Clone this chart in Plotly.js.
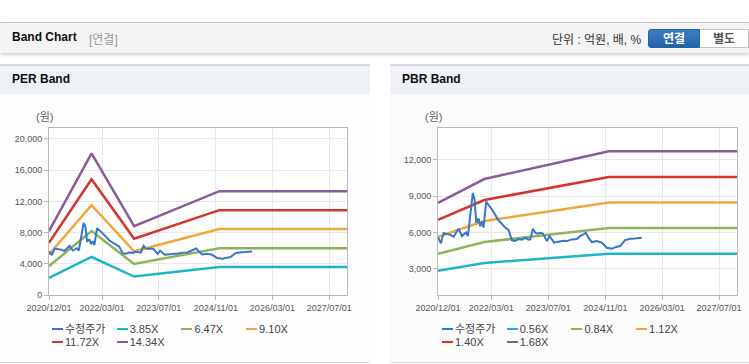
<!DOCTYPE html>
<html><head><meta charset="utf-8">
<script src="https://cdn.plot.ly/plotly-3.0.1.min.js"></script>
<style>
html,body{margin:0;padding:0;background:#fff;width:749px;height:364px;overflow:hidden;font-family:"Liberation Sans","Noto Sans CJK KR",sans-serif;}
#topbar{position:absolute;left:0;top:22px;width:749px;height:30px;background:#f4f4f4;border-top:1px solid #c4c4c4;box-shadow:0 2px 3px rgba(0,0,0,0.18);}
#topbar .t{position:absolute;left:12px;top:7px;font-size:12px;font-weight:bold;color:#111;}
#topbar .s{position:absolute;left:89px;top:7px;font-size:12px;color:#999;}
#topbar .u{position:absolute;left:552px;top:7px;font-size:12px;color:#333;}
.btn{position:absolute;top:6px;height:19px;line-height:19px;font-size:12px;font-weight:bold;text-align:center;box-sizing:border-box;}
#b1{left:648px;width:52px;background:linear-gradient(#3b7ec6,#2563a8);color:#fff;border:1px solid #24609f;border-radius:3px 0 0 3px;}
#b2{left:700px;width:49px;background:#fff;color:#555;border:1px solid #c4c4c4;border-left:none;}
.panel{position:absolute;top:64px;height:298px;background:#fdfdfd;border-bottom:1px solid #dcdcdc;}
.phead{position:absolute;left:0;top:0;right:0;height:28px;background:#eef1f6;border-top:2px solid #d6d8dc;}
.phead span{position:absolute;left:12px;top:6px;font-size:12px;font-weight:bold;color:#111;}
.chart{position:absolute;top:93px;height:270px;}
.legend{position:absolute;font-size:11px;color:#444;}
.li{position:absolute;white-space:nowrap;height:13px;line-height:13px;}
.li i{display:inline-block;width:11px;height:2px;vertical-align:middle;margin-right:2px;position:relative;top:-1px;}
</style></head>
<body>
<div id="topbar"><span class="t">Band Chart</span><span class="s">[연결]</span><span class="u">단위 : 억원, 배, %</span>
<div class="btn" id="b1">연결</div><div class="btn" id="b2">별도</div></div>
<div class="panel" style="left:0;width:370px;"><div class="phead"><span>PER Band</span></div></div>
<div class="panel" style="left:390px;width:359px;background:#fbfbfb;"><div class="phead"><span>PBR Band</span></div></div>
<div class="chart" id="per" style="left:0;width:370px;"></div>
<div class="chart" id="pbr" style="left:390px;width:359px;"></div>
<div class="legend" id="perLeg" style="left:52px;top:323px;"></div>
<div class="legend" id="pbrLeg" style="left:442px;top:323px;"></div>
<script>
// ---- data ----
const priceName = '수정주가';
const priceDates = ['2020-12-01','2020-12-25','2021-01-18','2021-02-10','2021-03-16','2021-04-13','2021-05-06','2021-05-26','2021-06-24','2021-07-28','2021-08-14','2021-09-03','2021-09-24','2021-10-10','2021-10-24','2021-11-13','2021-11-27','2021-12-12','2021-12-25','2022-01-17','2022-02-06','2022-03-07','2022-04-04','2022-05-03','2022-06-01','2022-06-29','2022-07-27','2022-08-25','2022-09-22','2022-10-20','2022-11-18','2022-12-17','2023-01-14','2023-01-28','2023-02-20','2023-03-12','2023-04-01','2023-04-24','2023-05-17','2023-06-05','2023-06-20','2023-07-12','2023-08-02','2023-08-21','2023-09-13','2023-10-11','2023-11-09','2023-12-08','2024-01-19','2024-03-02','2024-03-30','2024-04-27','2024-05-18','2024-06-09','2024-07-08','2024-08-20','2024-10-01','2024-11-13','2024-12-26','2025-02-01','2025-03-07','2025-04-19','2025-05-31','2025-07-13','2025-09-08'];
const priceValues = [5600,5100,5950,5900,5800,5650,6050,6300,5700,6000,5700,7300,9250,8700,6800,7150,6500,6900,6400,8550,8300,7900,7450,7000,6700,6400,6200,5350,5300,5450,5400,5550,5400,5420,6300,5970,5900,5970,5900,5560,5280,5690,5420,5150,5200,5280,5300,5280,5420,5450,5690,5830,5970,5560,5200,5280,5150,4730,4650,4800,4870,5360,5480,5500,5560];

const perBandNames = ['3.85X','6.47X','9.10X','11.72X','14.34X'];
const perDates = ['2020-12-01','2021-12-01','2022-12-01','2024-12-01','2027-12-01'];
const per385 = [2195,4870,2368,3573,3573];
const per647 = [3688,8185,3979,6004,6004];
const per910 = [5187,11512,5597,8445,8445];
const per1172 = [6680,14826,7208,10876,10876];
const per1434 = [8174,18140,8819,13308,13308];

const pbrBandNames = ['0.56X','0.84X','1.12X','1.40X','1.68X'];
const pbrDates = ['2020-12-01','2022-01-01','2024-12-01','2027-12-01'];
const pbr056 = [2817,3472,4236,4236];
const pbr084 = [4225,5208,6355,6355];
const pbr112 = [5634,6944,8473,8473];
const pbr140 = [7042,8680,10591,10591];
const pbr168 = [8450,10416,12709,12709];

const xTickVals = ['2020-12-01','2022-03-01','2023-07-01','2024-11-01','2026-03-01','2027-07-01'];
const xTickText = ['2020/12/01','2022/03/01','2023/07/01','2024/11/01','2026/03/01','2027/07/01'];
const xRange = ['2020-12-01','2027-12-01'];

const priceColor = '#3676cb';
const bandColors = ['#1db5c7','#8fb35a','#f2a63a','#d4342b','#8c5a9b'];

function build(div, dates, bands, names, yaxisOpts, lm, rm){
  const traces = bands.map((b,i)=>({x:dates,y:b,name:names[i],type:'scatter',mode:'lines',
    line:{color:bandColors[i],width:2.5},hoverinfo:'skip'}));
  traces.push({x:priceDates,y:priceValues,name:priceName,type:'scatter',mode:'lines',line:{color:priceColor,width:2}});
  const axisCommon = {showline:true,mirror:true,linecolor:'#b8b8b8',linewidth:1,gridcolor:'#e8e8e8',
    ticks:'outside',ticklen:4,tickcolor:'#b8b8b8',tickfont:{size:9,color:'#555',family:'Liberation Sans, sans-serif'},zeroline:false};
  const layout = {
    width: div==='per'?370:359, height:270,
    margin:{l:lm,r:rm,t:35,b:68},
    paper_bgcolor:'rgba(0,0,0,0)', plot_bgcolor:'#fff',
    showlegend:false,
    font:{family:'Liberation Sans, Noto Sans CJK KR, sans-serif'},
    xaxis:Object.assign({},axisCommon,{type:'date',range:xRange,tickvals:xTickVals,ticktext:xTickText}),
    yaxis:Object.assign({},axisCommon,yaxisOpts),
    annotations:[{text:'(원)',xref:'paper',yref:'paper',x:0,y:1,xanchor:'center',yanchor:'bottom',xshift:-5,yshift:3,
      showarrow:false,font:{size:11,color:'#666',family:'Liberation Sans, Noto Sans CJK KR'}}]
  };
  Plotly.newPlot(div,traces,layout,{staticPlot:true,displayModeBar:false});
}
build('per',perDates,[per385,per647,per910,per1172,per1434],perBandNames,
  {range:[0,21400],tickvals:[0,4000,8000,12000,16000,20000],tickformat:',d'},49,23);
build('pbr',pbrDates,[pbr056,pbr084,pbr112,pbr140,pbr168],pbrBandNames,
  {range:[820,14640],tickvals:[3000,6000,9000,12000],tickformat:',d'},48,12);

function legend(id,names){
  const el=document.getElementById(id);
  const all=[priceName].concat(names);
  const cols=[priceColor].concat(bandColors);
  all.forEach((n,k)=>{
    const d=document.createElement('div');d.className='li';
    d.style.left=(k%4)*64.7+'px';d.style.top=Math.floor(k/4)*13+'px';
    d.innerHTML='<i style="background:'+cols[k]+'"></i>'+n;
    el.appendChild(d);
  });
}
legend('perLeg',perBandNames);
legend('pbrLeg',pbrBandNames);
</script>
</body></html>
